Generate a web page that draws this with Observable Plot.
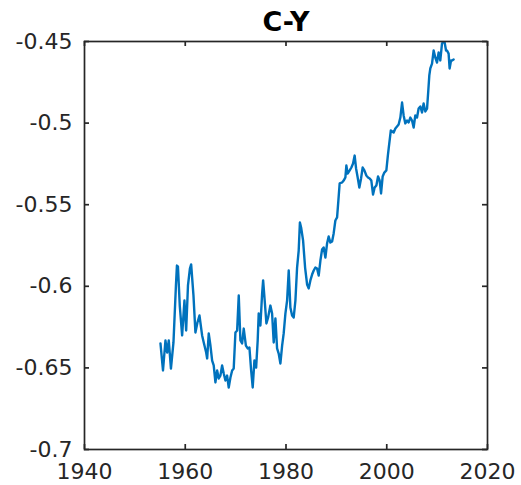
<!DOCTYPE html>
<html>
<head>
<meta charset="utf-8">
<script src="https://cdn.jsdelivr.net/npm/d3@7"></script>
<script src="https://cdn.jsdelivr.net/npm/@observablehq/plot@0.6"></script>
<style>
  body { margin: 0; background: #fff; }
  svg { display: block; }
</style>
</head>
<body>
<div id="chart"></div>
<script>
// Consumption minus income (log), quarterly-ish sample
const years = [
  1955.08, 1955.58, 1956.07, 1956.41, 1956.73, 1957.16, 1957.66, 1958.15, 1958.35, 1958.55,
  1958.91, 1959.38, 1959.84, 1960.18, 1960.54, 1960.93, 1961.17, 1961.63, 1962.02, 1962.42,
  1962.82, 1963.35, 1963.67, 1964.15, 1964.35, 1964.66, 1965.00, 1965.34, 1965.65, 1965.99,
  1966.33, 1966.65, 1966.98, 1967.32, 1967.64, 1967.98, 1968.31, 1968.63, 1968.97, 1969.31,
  1969.62, 1969.96, 1970.30, 1970.62, 1970.95, 1971.29, 1971.61, 1972.04, 1972.40, 1972.74,
  1973.08, 1973.39, 1973.73, 1974.07, 1974.38, 1974.58, 1974.92, 1975.26, 1975.46, 1975.77,
  1976.11, 1976.45, 1976.90, 1977.24, 1977.56, 1977.90, 1978.23, 1978.55, 1978.89, 1979.23,
  1979.54, 1979.88, 1980.22, 1980.54, 1980.87, 1981.21, 1981.53, 1981.87, 1982.20, 1982.52,
  1982.76, 1983.00, 1983.39, 1983.79, 1984.19, 1984.50, 1984.84, 1985.18, 1985.50, 1985.83,
  1986.17, 1986.49, 1986.83, 1987.16, 1987.48, 1987.82, 1988.15, 1988.47, 1988.81, 1989.15,
  1989.46, 1989.80, 1990.14, 1990.40, 1990.65, 1991.13, 1991.45, 1991.79, 1991.98, 1992.24,
  1992.64, 1992.98, 1993.31, 1993.63, 1993.91, 1994.23, 1994.56, 1994.90, 1995.22, 1995.56,
  1995.95, 1996.29, 1996.61, 1996.94, 1997.28, 1997.60, 1997.94, 1998.27, 1998.59, 1998.87,
  1999.19, 1999.52, 1999.92, 2000.22, 2000.38, 2000.81, 2001.37, 2001.71, 2002.04, 2002.36,
  2002.70, 2003.04, 2003.35, 2003.69, 2004.03, 2004.35, 2004.68, 2005.02, 2005.34, 2005.67,
  2006.01, 2006.33, 2006.67, 2007.00, 2007.32, 2007.66, 2008.00, 2008.25, 2008.45, 2008.65,
  2008.99, 2009.31, 2009.64, 2009.98, 2010.30, 2010.63, 2010.97, 2011.29, 2011.49, 2011.77,
  2011.96, 2012.28, 2012.48, 2012.76, 2012.96, 2013.27
];

const values = [
  -0.6350, -0.6516, -0.6332, -0.6406, -0.6332, -0.6504, -0.6344, -0.5995, -0.5873, -0.5879,
  -0.6118, -0.6301, -0.6087, -0.6271, -0.5995, -0.5891, -0.5866, -0.6056, -0.6283, -0.6222,
  -0.6179, -0.6301, -0.6344, -0.6406, -0.6442, -0.6289, -0.6363, -0.6455, -0.6485, -0.6589,
  -0.6516, -0.6565, -0.6547, -0.6485, -0.6534, -0.6577, -0.6547, -0.6620, -0.6559, -0.6516,
  -0.6504, -0.6283, -0.6271, -0.6056, -0.6332, -0.6350, -0.6259, -0.6363, -0.6381, -0.6375,
  -0.6516, -0.6620, -0.6455, -0.6498, -0.6332, -0.6167, -0.6240, -0.6044, -0.5964, -0.6087,
  -0.6228, -0.6191, -0.6118, -0.6167, -0.6344, -0.6197, -0.6381, -0.6412, -0.6473, -0.6363,
  -0.6289, -0.6167, -0.6087, -0.5903, -0.6130, -0.6179, -0.6191, -0.6087, -0.5885, -0.5781,
  -0.5609, -0.5640, -0.5719, -0.5885, -0.5989, -0.6013, -0.5964, -0.5928, -0.5903, -0.5885,
  -0.5891, -0.5934, -0.5842, -0.5775, -0.5762, -0.5824, -0.5738, -0.5695, -0.5732, -0.5726,
  -0.5676, -0.5597, -0.5578, -0.5474, -0.5370, -0.5364, -0.5352, -0.5333, -0.5260, -0.5309,
  -0.5290, -0.5272, -0.5248, -0.5199, -0.5278, -0.5333, -0.5395, -0.5339, -0.5272, -0.5290,
  -0.5321, -0.5333, -0.5339, -0.5352, -0.5438, -0.5395, -0.5382, -0.5327, -0.5352, -0.5431,
  -0.5327, -0.5303, -0.5290, -0.5199, -0.5156, -0.5045, -0.5058, -0.5033, -0.5021, -0.5009,
  -0.4966, -0.4874, -0.4953, -0.5002, -0.4984, -0.4996, -0.4966, -0.4984, -0.5027, -0.4953,
  -0.4966, -0.4911, -0.4898, -0.4935, -0.4880, -0.4929, -0.4911, -0.4800, -0.4708, -0.4665,
  -0.4635, -0.4555, -0.4598, -0.4629, -0.4567, -0.4616, -0.4512, -0.4500, -0.4506, -0.4555,
  -0.4555, -0.4574, -0.4665, -0.4616, -0.4616, -0.4610
];

const xTicks = [1940, 1960, 1980, 2000, 2020];
const xTickLabels = ["1940", "1960", "1980", "2000", "2020"];
const yTicks = [-0.7, -0.65, -0.6, -0.55, -0.5, -0.45];
const yTickLabels = ["-0.7", "-0.65", "-0.6", "-0.55", "-0.5", "-0.45"];
const title = "C-Y";

const series = years.map((t, i) => ({t, v: values[i]}));

const W = 521, H = 485;
const mt = 41, mb = 36, ml = 84, mr = 34;
const innerW = W - ml - mr, innerH = H - mt - mb;
const axisColor = "#262626";
const tickLen = 5;
const boxWidth = 1.7;

const chart = Plot.plot({
  width: W,
  height: H,
  marginTop: mt,
  marginBottom: mb,
  marginLeft: ml,
  marginRight: mr,
  style: {fontFamily: "'DejaVu Sans', sans-serif", fontSize: "22px", color: axisColor, background: "#fff", overflow: "visible"},
  x: {domain: [1940, 2020]},
  y: {domain: [-0.7, -0.45]},
  marks: [
    Plot.line(series, {x: "t", y: "v", stroke: "#0072BD", strokeWidth: 2.4, strokeLinejoin: "round", clip: true}),
    Plot.frame({stroke: axisColor, strokeWidth: boxWidth}),
    // inward ticks on all four sides
    Plot.tickX(xTicks, {x: d => d, insetTop: innerH - tickLen, stroke: axisColor, strokeWidth: boxWidth}),
    Plot.tickX(xTicks, {x: d => d, insetBottom: innerH - tickLen, stroke: axisColor, strokeWidth: boxWidth}),
    Plot.tickY(yTicks, {y: d => d, insetRight: innerW - tickLen, stroke: axisColor, strokeWidth: boxWidth}),
    Plot.tickY(yTicks, {y: d => d, insetLeft: innerW - tickLen, stroke: axisColor, strokeWidth: boxWidth}),
    Plot.axisX(xTicks, {tickSize: 0, tickPadding: 14, tickFormat: d => xTickLabels[xTicks.indexOf(d)], label: null, fill: axisColor}),
    Plot.axisY(yTicks, {tickSize: 0, tickPadding: 12, tickFormat: d => yTickLabels[yTicks.indexOf(d)], label: null, fill: axisColor}),
    Plot.text([title], {text: d => d, frameAnchor: "top", lineAnchor: "bottom", dy: -11, fontWeight: "bold", fontSize: 27, fill: "#000"})
  ]
});

document.getElementById("chart").appendChild(chart);
</script>
</body>
</html>
